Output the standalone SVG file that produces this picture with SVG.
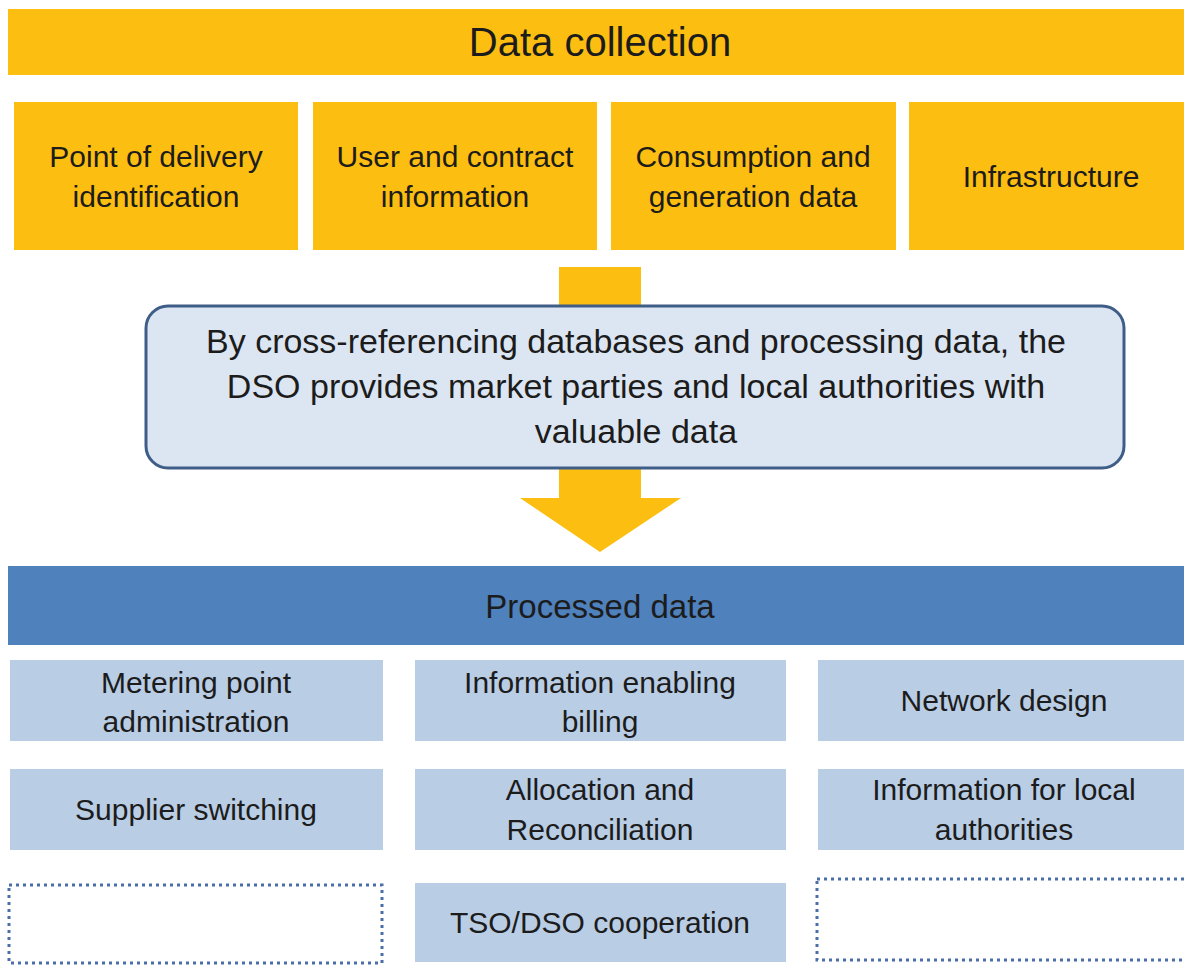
<svg xmlns="http://www.w3.org/2000/svg" width="1184" height="966" viewBox="0 0 1184 966">
<style>
text{font-family:"Liberation Sans",Arial,sans-serif;fill:#1c1c1c;text-anchor:middle}
.y{fill:#fcbe10}
.lb{fill:#b9cde5}
.dot{fill:#ffffff;stroke:#4a6ea8;stroke-width:3;stroke-dasharray:3 4}
.t30{font-size:30px}
</style>
<rect width="1184" height="966" fill="#ffffff"/>
<g id="connectors">
<polygon class="y" points="559,267 641,267 641,498 681,498 600,552 520,498 559,498"/>
</g>
<g id="data-collection">
<rect class="y" x="8" y="9" width="1186" height="66"/>
<text x="600" y="56" font-size="40">Data collection</text>
</g>
<g id="point-of-delivery">
<rect class="y" x="14" y="102" width="284" height="148"/>
<text class="t30" x="156" y="167">Point of delivery</text>
<text class="t30" x="156" y="207">identification</text>
</g>
<g id="user-contract">
<rect class="y" x="313" y="102" width="284" height="148"/>
<text class="t30" x="455" y="167">User and contract</text>
<text class="t30" x="455" y="207">information</text>
</g>
<g id="consumption-generation">
<rect class="y" x="611" y="102" width="285" height="148"/>
<text class="t30" x="753" y="167">Consumption and</text>
<text class="t30" x="753" y="207">generation data</text>
</g>
<g id="infrastructure">
<rect class="y" x="909" y="102" width="285" height="148"/>
<text class="t30" x="1051" y="187">Infrastructure</text>
</g>
<g id="dso-process">
<rect x="146" y="306" width="978" height="162" rx="22" fill="#dce6f2" stroke="#3e5d87" stroke-width="3"/>
<text x="636" y="353" font-size="34">By cross-referencing databases and processing data, the</text>
<text x="636" y="398" font-size="34">DSO provides market parties and local authorities with</text>
<text x="636" y="443" font-size="34">valuable data</text>
</g>
<g id="processed-data">
<rect x="8" y="566" width="1186" height="79" fill="#4f81bd"/>
<text x="600" y="618" font-size="33">Processed data</text>
</g>
<g id="metering-point">
<rect class="lb" x="10" y="660" width="373" height="81"/>
<text class="t30" x="196" y="693">Metering point</text>
<text class="t30" x="196" y="732">administration</text>
</g>
<g id="billing">
<rect class="lb" x="415" y="660" width="371" height="81"/>
<text class="t30" x="600" y="693">Information enabling</text>
<text class="t30" x="600" y="732">billing</text>
</g>
<g id="network-design">
<rect class="lb" x="818" y="660" width="376" height="81"/>
<text class="t30" x="1004" y="711">Network design</text>
</g>
<g id="supplier-switching">
<rect class="lb" x="10" y="769" width="373" height="81"/>
<text class="t30" x="196" y="820">Supplier switching</text>
</g>
<g id="allocation">
<rect class="lb" x="415" y="769" width="371" height="81"/>
<text class="t30" x="600" y="800">Allocation and</text>
<text class="t30" x="600" y="840">Reconciliation</text>
</g>
<g id="local-authorities">
<rect class="lb" x="818" y="769" width="376" height="81"/>
<text class="t30" x="1004" y="800">Information for local</text>
<text class="t30" x="1004" y="840">authorities</text>
</g>
<g id="empty-left">
<rect class="dot" x="9" y="885" width="373" height="78"/>
</g>
<g id="tso-dso">
<rect class="lb" x="415" y="883" width="371" height="79"/>
<text class="t30" x="600" y="933">TSO/DSO cooperation</text>
</g>
<g id="empty-right">
<rect class="dot" x="817" y="879" width="380" height="81"/>
</g>
</svg>
